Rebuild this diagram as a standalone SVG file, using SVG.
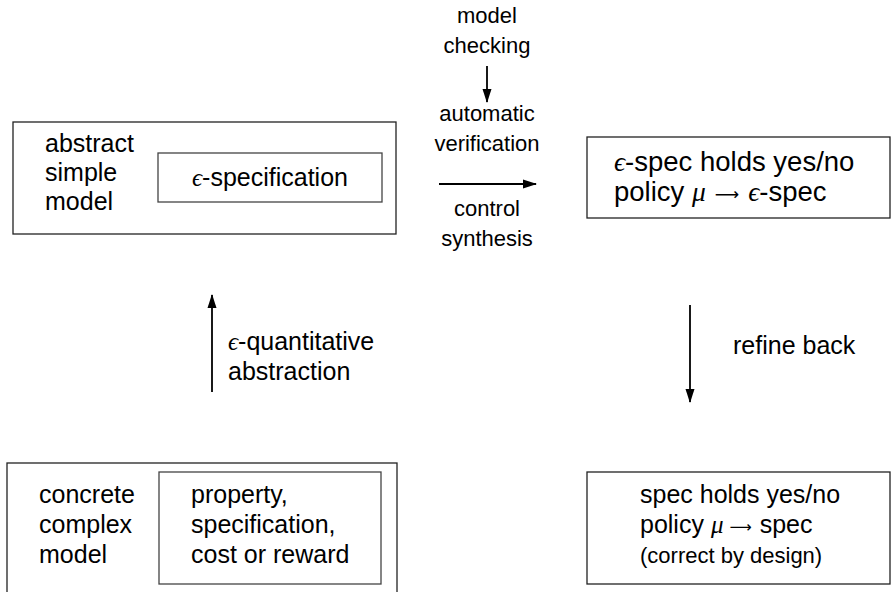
<svg xmlns="http://www.w3.org/2000/svg" width="892" height="592" viewBox="0 0 892 592">
<style>
.box{fill:none;stroke:#222;stroke-width:1.3}
.inner{fill:none;stroke:#444;stroke-width:1.3}
.t{font-family:"Liberation Sans",Arial,sans-serif;font-size:25px;fill:#000}
.big{font-size:27.5px}
.s{font-family:"Liberation Sans",Arial,sans-serif;font-size:22px;fill:#000}
.m{font-family:"Liberation Serif","DejaVu Serif",serif;font-style:italic}
.r{font-family:"DejaVu Sans",sans-serif;font-size:0.62em}
.c{text-anchor:middle}
.edge{stroke:#000;stroke-width:1.8;fill:none;marker-end:url(#ah)}
</style>
<defs>
<marker id="ah" viewBox="0 0 14 10" refX="13" refY="5" markerWidth="14" markerHeight="10" orient="auto" markerUnits="userSpaceOnUse">
<path d="M0,0.5 L14,5 L0,9.5 z" fill="#000"/>
</marker>
</defs>
<rect width="892" height="592" fill="#fff"/>
<g id="abstract-model">
<rect class="box" x="13" y="122" width="383" height="112"/>
<text class="t" x="45" y="152">abstract</text>
<text class="t" x="45" y="181">simple</text>
<text class="t" x="45" y="210">model</text>
</g>
<g id="eps-specification">
<rect class="inner" x="158" y="153" width="224" height="49"/>
<text class="t c" x="270" y="186"><tspan class="m">ϵ</tspan>-specification</text>
</g>
<g id="eps-result">
<rect class="box" x="587" y="137" width="303" height="81"/>
<text class="t big" x="614" y="171"><tspan class="m">ϵ</tspan>-spec holds yes/no</text>
<text class="t big" x="614" y="201">policy <tspan class="m">μ</tspan><tspan class="r" dx="9" dy="-1">⟶</tspan><tspan class="m" dx="9" dy="1">ϵ</tspan>-spec</text>
</g>
<g id="concrete-model">
<rect class="box" x="7" y="463" width="390" height="140"/>
<text class="t" x="39" y="503">concrete</text>
<text class="t" x="39" y="533">complex</text>
<text class="t" x="39" y="563">model</text>
</g>
<g id="property">
<rect class="inner" x="159" y="472" width="222" height="112"/>
<text class="t" x="191" y="503">property,</text>
<text class="t" x="191" y="533">specification,</text>
<text class="t" x="191" y="563">cost or reward</text>
</g>
<g id="result">
<rect class="box" x="587" y="472" width="303" height="112"/>
<text class="t" x="640" y="503">spec holds yes/no</text>
<text class="t" x="640" y="533">policy <tspan class="m">μ</tspan><tspan class="r" dx="6" dy="-1">⟶</tspan><tspan dx="8" dy="1">spec</tspan></text>
<text class="s" x="640" y="563">(correct by design)</text>
</g>
<g id="labels">
<text class="s c" x="487" y="23">model</text>
<text class="s c" x="487" y="53">checking</text>
<text class="s c" x="487" y="121">automatic</text>
<text class="s c" x="487" y="151">verification</text>
<text class="s c" x="487" y="216">control</text>
<text class="s c" x="487" y="246">synthesis</text>
<text class="t" x="228" y="350"><tspan class="m">ϵ</tspan>-quantitative</text>
<text class="t" x="228" y="380">abstraction</text>
<text class="t" x="733" y="354">refine back</text>
</g>
<g id="connectors">
<line class="edge" x1="487" y1="66" x2="487" y2="102"/>
<line class="edge" x1="439" y1="184" x2="536" y2="184"/>
<line class="edge" x1="212" y1="392" x2="212" y2="295"/>
<line class="edge" x1="690" y1="305" x2="690" y2="402"/>
</g>
</svg>
